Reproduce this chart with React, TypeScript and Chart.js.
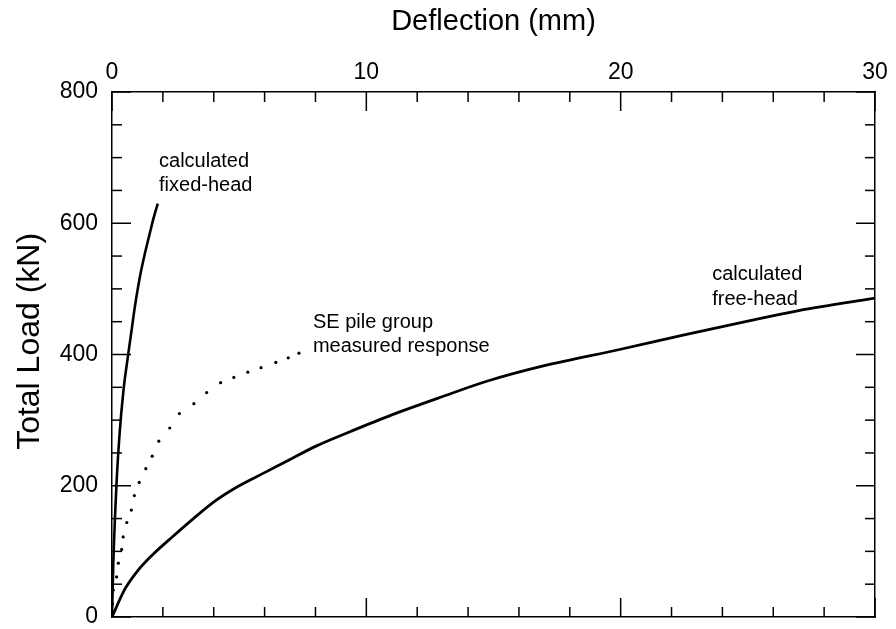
import React, { useEffect, useRef } from "react";
import { Chart, registerables } from "chart.js";

Chart.register(...registerables);

const FONT = "'Liberation Sans', Arial, Helvetica, sans-serif";

// Axis ticks
const xTickLabels = [0, 10, 20, 30];
const yTickLabels = [0, 200, 400, 600, 800];
const xMinorTicks = [2, 4, 6, 8, 12, 14, 16, 18, 22, 24, 26, 28];
const yMinorTicks = [50, 100, 150, 250, 300, 350, 450, 500, 550, 650, 700, 750];

// Calculated fixed-head response
const fixedHeadDefl = [0, 0.05, 0.18, 0.3, 0.45, 0.6, 0.77, 0.9, 1.1, 1.3, 1.5, 1.65, 1.8];
const fixedHeadLoad = [0, 80, 205, 280, 345, 390, 437, 473, 519, 555, 587, 610, 630];

// Calculated free-head response
const freeHeadDefl = [0, 0.5, 1, 1.6, 2.4, 3.2, 4.1, 5, 6, 7, 8, 9.4, 11, 13, 14.8, 17, 20, 22.5, 25, 27, 30];
const freeHeadLoad = [0, 42, 70, 95, 123, 150, 178, 200, 220, 240, 260, 283, 308, 336, 360, 383, 408, 430, 451, 467, 486];

// SE pile group measured response (dotted)
const measuredDefl = [0, 0.02, 0.05, 0.18, 0.25, 0.38, 0.44, 0.58, 0.76, 0.88, 1.07, 1.33, 1.58, 1.84, 2.27, 2.65, 3.22, 3.72, 4.27, 4.79, 5.34, 5.86, 6.44, 6.93, 7.35];
const measuredLoad = [0, 20, 41, 61, 82, 103, 122, 144, 163, 185, 205, 226, 245, 268, 288, 310, 325, 342, 357, 365, 373, 380, 388, 395, 402];

// Curve labels (anchored in data coordinates: deflection, load of each text baseline)
const labelTexts = [["calculated", "fixed-head"], ["SE pile group", "measured response"], ["calculated", "free-head"]];
const labelDefl = [1.85, 7.9, 23.6];
const labelLoad = [[686, 649], [440, 404], [514, 476]];

const yTitle = "Total Load (kN)";

const toPoints = (xs: number[], ys: number[]) => xs.map((x, i) => ({ x, y: ys[i] }));

const inwardTicks = {
  id: "inwardTicks",
  afterDatasetsDraw(chart: any) {
    const { ctx, chartArea } = chart;
    const { left, right, top, bottom } = chartArea;
    const xs = chart.scales.x;
    const ys = chart.scales.y;
    ctx.save();
    ctx.strokeStyle = "#000";
    ctx.lineWidth = 1.5;
    const seg = (x1: number, y1: number, x2: number, y2: number) => {
      ctx.beginPath();
      ctx.moveTo(x1, y1);
      ctx.lineTo(x2, y2);
      ctx.stroke();
    };
    const xTick = (v: number, len: number) => {
      const p = xs.getPixelForValue(v);
      seg(p, top, p, top + len);
      seg(p, bottom, p, bottom - len);
    };
    const yTick = (v: number, len: number) => {
      const p = ys.getPixelForValue(v);
      seg(left, p, left + len, p);
      seg(right, p, right - len, p);
    };
    xMinorTicks.forEach((v) => xTick(v, 10));
    xTickLabels.forEach((v) => xTick(v, 19));
    yMinorTicks.forEach((v) => yTick(v, 10));
    yTickLabels.forEach((v) => yTick(v, 19));
    ctx.restore();
  },
};

const curveLabels = {
  id: "curveLabels",
  afterDatasetsDraw(chart: any) {
    const { ctx } = chart;
    const xs = chart.scales.x;
    const ys = chart.scales.y;
    ctx.save();
    ctx.fillStyle = "#000";
    ctx.font = `20px ${FONT}`;
    ctx.textAlign = "left";
    ctx.textBaseline = "alphabetic";
    labelTexts.forEach((lines, i) => {
      const px = xs.getPixelForValue(labelDefl[i]);
      lines.forEach((t, j) => {
        ctx.fillText(t, px, ys.getPixelForValue(labelLoad[i][j]));
      });
    });
    // vertical axis title
    ctx.font = `32px ${FONT}`;
    ctx.textAlign = "center";
    ctx.textBaseline = "middle";
    ctx.translate(30, ys.getPixelForValue(420));
    ctx.rotate(-Math.PI / 2);
    ctx.fillText(yTitle, 0, 0);
    ctx.restore();
  },
};

const noPad = (s: any) => {
  s.paddingTop = 0;
  s.paddingBottom = 0;
  s.paddingLeft = 0;
  s.paddingRight = 0;
};

export default function App() {
  const ref = useRef<HTMLCanvasElement | null>(null);

  useEffect(() => {
    if (!ref.current) return;
    const chart = new Chart(ref.current, {
      type: "scatter",
      data: {
        datasets: [
          {
            label: "calculated fixed-head",
            data: toPoints(fixedHeadDefl, fixedHeadLoad),
            showLine: true,
            borderColor: "#000",
            borderWidth: 2.6,
            pointRadius: 0,
            cubicInterpolationMode: "monotone",
            xAxisID: "x",
            yAxisID: "y",
          },
          {
            label: "calculated free-head",
            data: toPoints(freeHeadDefl, freeHeadLoad),
            showLine: true,
            borderColor: "#000",
            borderWidth: 2.8,
            pointRadius: 0,
            cubicInterpolationMode: "monotone",
            xAxisID: "x",
            yAxisID: "y",
          },
          {
            label: "SE pile group measured response",
            data: toPoints(measuredDefl, measuredLoad),
            showLine: false,
            pointRadius: 1.6,
            pointBackgroundColor: "#000",
            pointBorderWidth: 0,
            xAxisID: "x",
            yAxisID: "y",
          },
        ],
      } as any,
      options: {
        responsive: false,
        animation: false,
        events: [],
        layout: { padding: 0 },
        plugins: {
          legend: { display: false },
          tooltip: { enabled: false },
        },
        scales: {
          x: {
            type: "linear",
            position: "top",
            min: 0,
            max: 30,
            afterBuildTicks: (s: any) => {
              s.ticks = xTickLabels.map((v) => ({ value: v }));
            },
            ticks: { font: { family: FONT, size: 23 }, color: "#000", padding: 6 },
            grid: { drawOnChartArea: false, drawTicks: false },
            border: { display: true, color: "#000", width: 1.5 },
            title: {
              display: true,
              text: "Deflection (mm)",
              color: "#000",
              font: { family: FONT, size: 29 },
              padding: { top: 5, bottom: 0 },
            },
            afterFit: (s: any) => {
              s.height = 92;
              noPad(s);
            },
          },
          x2: {
            type: "linear",
            position: "bottom",
            min: 0,
            max: 30,
            ticks: { display: false },
            grid: { drawOnChartArea: false, drawTicks: false },
            border: { display: true, color: "#000", width: 1.5 },
            afterFit: (s: any) => {
              s.height = 12;
              noPad(s);
            },
          },
          y: {
            type: "linear",
            position: "left",
            min: 0,
            max: 800,
            afterBuildTicks: (s: any) => {
              s.ticks = yTickLabels.map((v) => ({ value: v }));
            },
            ticks: { font: { family: FONT, size: 23 }, color: "#000", padding: 14 },
            grid: { drawOnChartArea: false, drawTicks: false },
            border: { display: true, color: "#000", width: 1.5 },
            afterFit: (s: any) => {
              s.width = 112;
              noPad(s);
            },
          },
          y2: {
            type: "linear",
            position: "right",
            min: 0,
            max: 800,
            ticks: { display: false },
            grid: { drawOnChartArea: false, drawTicks: false },
            border: { display: true, color: "#000", width: 1.5 },
            afterFit: (s: any) => {
              s.width = 21;
              noPad(s);
            },
          },
        },
      } as any,
      plugins: [inwardTicks, curveLabels],
    });
    return () => chart.destroy();
  }, []);

  return (
    <div style={{ position: "fixed", left: 0, top: 0, width: 896, height: 629, background: "#fff" }}>
      <canvas ref={ref} width={896} height={629} style={{ display: "block" }} />
    </div>
  );
}
